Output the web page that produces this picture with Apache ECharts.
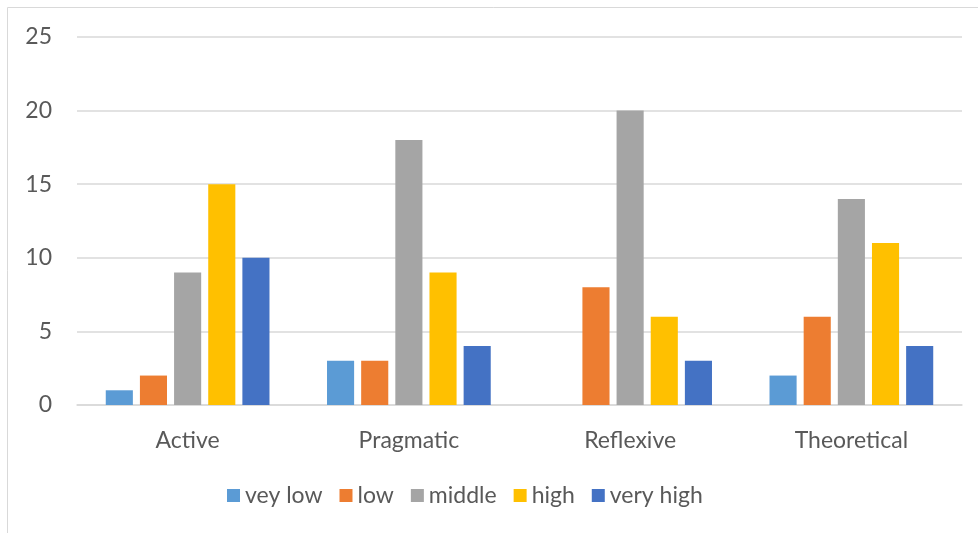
<!DOCTYPE html>
<html>
<head>
<meta charset="utf-8">
<script src="https://cdn.jsdelivr.net/npm/echarts@6/dist/echarts.min.js"></script>
<style>
  html, body { margin: 0; padding: 0; background: #fff; }
  #chart { width: 978px; height: 533px; }
</style>
</head>
<body>
<div id="chart"></div>
<script>
// Learning-style categories and the count of respondents at each level
const categories = ['Active', 'Pragmatic', 'Reflexive', 'Theoretical'];
const seriesNames = ['vey low', 'low', 'middle', 'high', 'very high'];
const veyLow   = [1, 3, 0, 2];
const low      = [2, 3, 8, 6];
const middle   = [9, 18, 20, 14];
const high     = [15, 9, 6, 11];
const veryHigh = [10, 4, 3, 4];
const yTicks = { min: 0, max: 25, interval: 5 };

const colors = ['#5B9BD5', '#ED7D31', '#A5A5A5', '#FFC000', '#4472C4'];
const values = [veyLow, low, middle, high, veryHigh];
const font = 'Lato, "Open Sans", sans-serif';
const textColor = '#595959';
const fontSize = 23;

const chart = echarts.init(document.getElementById('chart'));
chart.setOption({
  animation: false,
  textStyle: { fontFamily: font },
  graphic: [{
    type: 'rect',
    shape: { x: 7.5, y: 7.5, width: 1100, height: 700 },
    style: { fill: 'none', stroke: '#d9d9d9', lineWidth: 1 },
    silent: true
  }],
  grid: { left: 77, right: 16, top: 37, bottom: 128, containLabel: false },
  legend: {
    data: seriesNames,
    top: 479,
    left: 222,
    icon: 'rect',
    itemWidth: 13,
    itemHeight: 13,
    itemGap: 17,
    textStyle: { fontFamily: font, fontSize: fontSize, color: textColor, padding: [0, 0, 0, 0] }
  },
  xAxis: {
    type: 'category',
    data: categories,
    axisTick: { show: false },
    axisLine: { lineStyle: { color: '#d9d9d9', width: 1.5 } },
    axisLabel: { fontFamily: font, fontSize: fontSize, color: textColor, margin: 24 }
  },
  yAxis: {
    type: 'value',
    min: yTicks.min,
    max: yTicks.max,
    interval: yTicks.interval,
    axisLine: { show: false },
    axisTick: { show: false },
    splitLine: { lineStyle: { color: '#d9d9d9', width: 1.5 } },
    axisLabel: { fontFamily: font, fontSize: fontSize, color: textColor, margin: 25 }
  },
  series: seriesNames.map((name, i) => ({
    name: name,
    type: 'bar',
    data: values[i],
    barGap: '26%',
    barCategoryGap: '26%',
    itemStyle: { color: colors[i] }
  }))
});
</script>
</body>
</html>
